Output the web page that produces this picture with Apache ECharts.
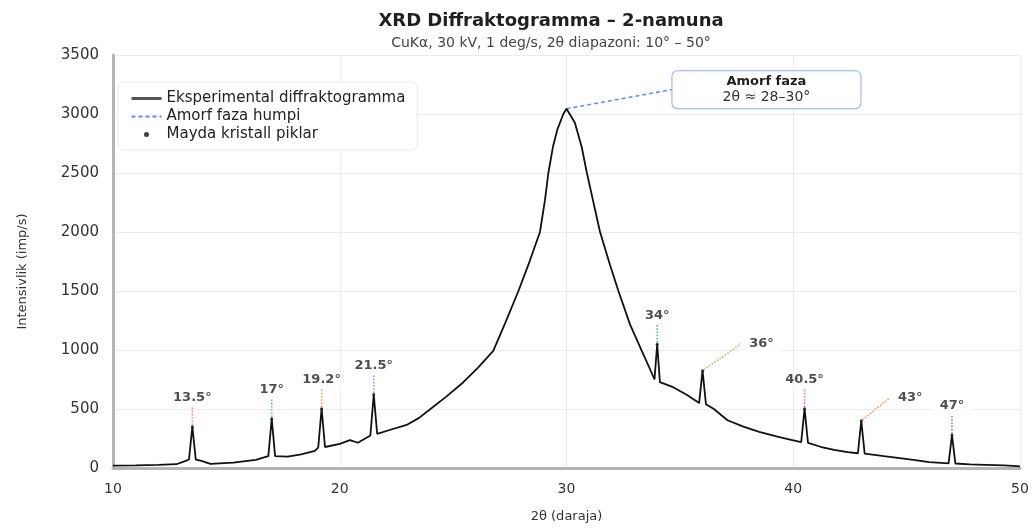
<!DOCTYPE html>
<html>
<head>
<meta charset="utf-8">
<script src="https://cdn.jsdelivr.net/npm/echarts@6/dist/echarts.min.js"></script>
<style>
  html, body { margin: 0; padding: 0; background: #fff; }
  #chart { width: 1034px; height: 528px; }
</style>
</head>
<body>
<div id="chart"></div>
<script>
// experimental curve [2theta, intensity]
var expData = [
    [10, 20], [11, 22], [12, 27], [12.8, 32], [13.2, 60], [13.35, 72], [13.5, 350], [13.65, 72],
    [13.9, 60], [14.3, 35], [15.3, 45], [16.3, 68], [16.85, 100], [17, 418], [17.15, 100],
    [17.7, 97], [18.3, 115], [18.9, 145], [19.05, 172], [19.2, 503], [19.35, 178], [20, 205],
    [20.45, 237], [20.8, 214], [21.35, 275], [21.5, 623], [21.65, 290], [22.2, 322], [22.95, 365],
    [23.5, 425], [24.0, 500], [24.7, 605], [25.45, 727], [26.1, 850], [26.77, 993], [27.3, 1230],
    [27.88, 1500], [28.39, 1760], [28.83, 2000], [29.05, 2270], [29.2, 2500], [29.4, 2720],
    [29.6, 2870], [29.86, 3000], [30, 3044], [30.37, 2926], [30.67, 2720], [30.9, 2500],
    [31.2, 2240], [31.48, 2000], [31.92, 1720], [32.29, 1500], [32.8, 1217], [33.32, 993],
    [33.68, 839], [33.88, 750], [34, 1049], [34.12, 727], [34.7, 685], [35.3, 620], [35.85, 550],
    [36, 825], [36.15, 540], [36.5, 500], [37.1, 405], [37.8, 350], [38.5, 307], [39.3, 265],
    [40.0, 235], [40.35, 220], [40.5, 503], [40.65, 212], [41.2, 180], [41.8, 153], [42.4, 135],
    [42.85, 125], [43, 400], [43.15, 122], [44, 100], [45.3, 69], [46, 50], [46.85, 40], [47, 279],
    [47.15, 38], [47.8, 30], [48.5, 27], [49.3, 22], [50, 13]
];

// small crystal peaks
var peakPos = [13.5, 17, 19.2, 21.5, 34, 36, 40.5, 43, 47];
var peakHeight = [350, 418, 503, 623, 1049, 825, 503, 400, 279];
var peakNames = ['13.5°', '17°', '19.2°', '21.5°', '34°', '36°', '40.5°', '43°', '47°'];

// amorphous hump: top and annotation anchor
var amorfLink = [[30, 3044], [34.65, 3206]];
var amorfText = ['Amorf faza', '2θ ≈ 28–30°'];

var xTicks = [10, 20, 30, 40, 50];
var yTicks = [0, 500, 1000, 1500, 2000, 2500, 3000, 3500];

var seriesNames = ['Eksperimental diffraktogramma', 'Amorf faza humpi', 'Mayda kristall piklar'];

// styling for the peak labels
var peakColors = ['#f08a8a', '#5fbf9f', '#f5a45a', '#b484e6', '#4fb6d9', '#9ccc5c', '#e96ca4', '#f0946a', '#9a6ee2'];
var labelShift = [[0, -14], [0, -14], [0, -14], [0, -14], [0, -14], [59, -12], [0, -14], [49, -8], [0, -14]];

var FONT = '"DejaVu Sans", sans-serif';

var chart = echarts.init(document.getElementById('chart'));

var peakData = [];
for (var i = 0; i < peakPos.length; i++) {
    peakData.push({
        name: peakNames[i],
        value: [peakPos[i], peakHeight[i]],
        labelLine: { lineStyle: { color: peakColors[i] } }
    });
}

var option = {
    animation: false,
    textStyle: { fontFamily: FONT },
    title: {
        text: 'XRD Diffraktogramma – 2-namuna',
        subtext: 'CuKα, 30 kV, 1 deg/s, 2θ diapazoni: 10° – 50°',
        left: 546,
        textAlign: 'center',
        top: 7,
        itemGap: 6,
        textStyle: { fontFamily: FONT, fontSize: 18, fontWeight: 'bold', color: '#1f1f1f' },
        subtextStyle: { fontFamily: FONT, fontSize: 14, color: '#444' }
    },
    legend: {
        orient: 'vertical',
        left: 118,
        top: 82,
        padding: [9, 12, 8, 12],
        itemGap: 3,
        itemWidth: 30,
        itemHeight: 5,
        backgroundColor: '#fff',
        borderColor: '#e8e8e8',
        borderWidth: 1,
        borderRadius: 6,
        textStyle: { fontFamily: FONT, fontSize: 15, color: '#222' },
        data: [
            { name: seriesNames[0], lineStyle: { width: 3, color: '#555' }, itemStyle: { opacity: 0 } },
            { name: seriesNames[1], itemStyle: { opacity: 0 } },
            { name: seriesNames[2], icon: 'circle' }
        ]
    },
    grid: { left: 113, right: 14, top: 55, bottom: 57 },
    xAxis: {
        type: 'value',
        min: xTicks[0],
        max: xTicks[xTicks.length - 1],
        interval: 10,
        name: '2θ (daraja)',
        nameLocation: 'middle',
        nameGap: 42,
        nameTextStyle: { fontSize: 13, color: '#333' },
        axisLine: { lineStyle: { color: '#b5b5b5', width: 3 } },
        axisTick: { show: false },
        axisLabel: { fontSize: 14, color: '#333', margin: 14 },
        splitLine: { show: true, lineStyle: { color: '#ececec' } }
    },
    yAxis: {
        type: 'value',
        min: yTicks[0],
        max: yTicks[yTicks.length - 1],
        interval: 500,
        name: 'Intensivlik (imp/s)',
        nameLocation: 'middle',
        nameGap: 84,
        nameTextStyle: { fontSize: 13, color: '#333', padding: [0, 20, 0, 0] },
        axisLine: { show: true, lineStyle: { color: '#b5b5b5', width: 3 } },
        axisTick: { show: false },
        axisLabel: { fontSize: 15, color: '#333', margin: 14, formatter: function (v) { return String(v); } },
        splitLine: { show: true, lineStyle: { color: '#ececec' } }
    },
    series: [
        {
            name: seriesNames[0],
            type: 'line',
            data: expData,
            symbol: 'none',
            lineStyle: { color: '#111', width: 1.8 },
            itemStyle: { color: '#111' },
            z: 3
        },
        {
            name: seriesNames[1],
            type: 'line',
            symbol: 'none',
            lineStyle: { color: '#5b8def', width: 1.5, type: [4, 3] },
            itemStyle: { color: '#5b8def' },
            data: [
                amorfLink[0],
                {
                    value: amorfLink[1],
                    symbol: 'circle',
                    symbolSize: 1,
                    label: {
                        show: true,
                        position: 'right',
                        distance: 0,
                        formatter: '{b|' + amorfText[0] + '}\n{n|' + amorfText[1] + '}',
                        width: 168,
                        padding: [3, 10],
                        backgroundColor: '#fff',
                        borderColor: '#8ab0f0',
                        borderWidth: 1,
                        borderRadius: 5,
                        rich: {
                            b: { fontFamily: FONT, fontSize: 13, fontWeight: 'bold', color: '#1f1f1f', align: 'center', lineHeight: 15 },
                            n: { fontFamily: FONT, fontSize: 14, color: '#333', align: 'center', lineHeight: 16 }
                        }
                    }
                }
            ],
            z: 2
        },
        {
            name: seriesNames[2],
            type: 'scatter',
            data: peakData,
            symbol: 'circle',
            symbolSize: 3,
            itemStyle: { color: '#111' },
            label: {
                show: true,
                position: 'top',
                formatter: '{b}',
                fontFamily: FONT,
                fontSize: 13,
                fontWeight: 'bold',
                color: '#222',
                backgroundColor: '#fff',
                padding: [2, 8]
            },
            labelLine: {
                show: true,
                lineStyle: { type: 'dotted', width: 1.6 }
            },
            labelLayout: function (params) {
                var s = labelShift[params.dataIndex];
                return { dx: s[0], dy: s[1] };
            },
            z: 4
        }
    ]
};

chart.setOption(option);
</script>
</body>
</html>
